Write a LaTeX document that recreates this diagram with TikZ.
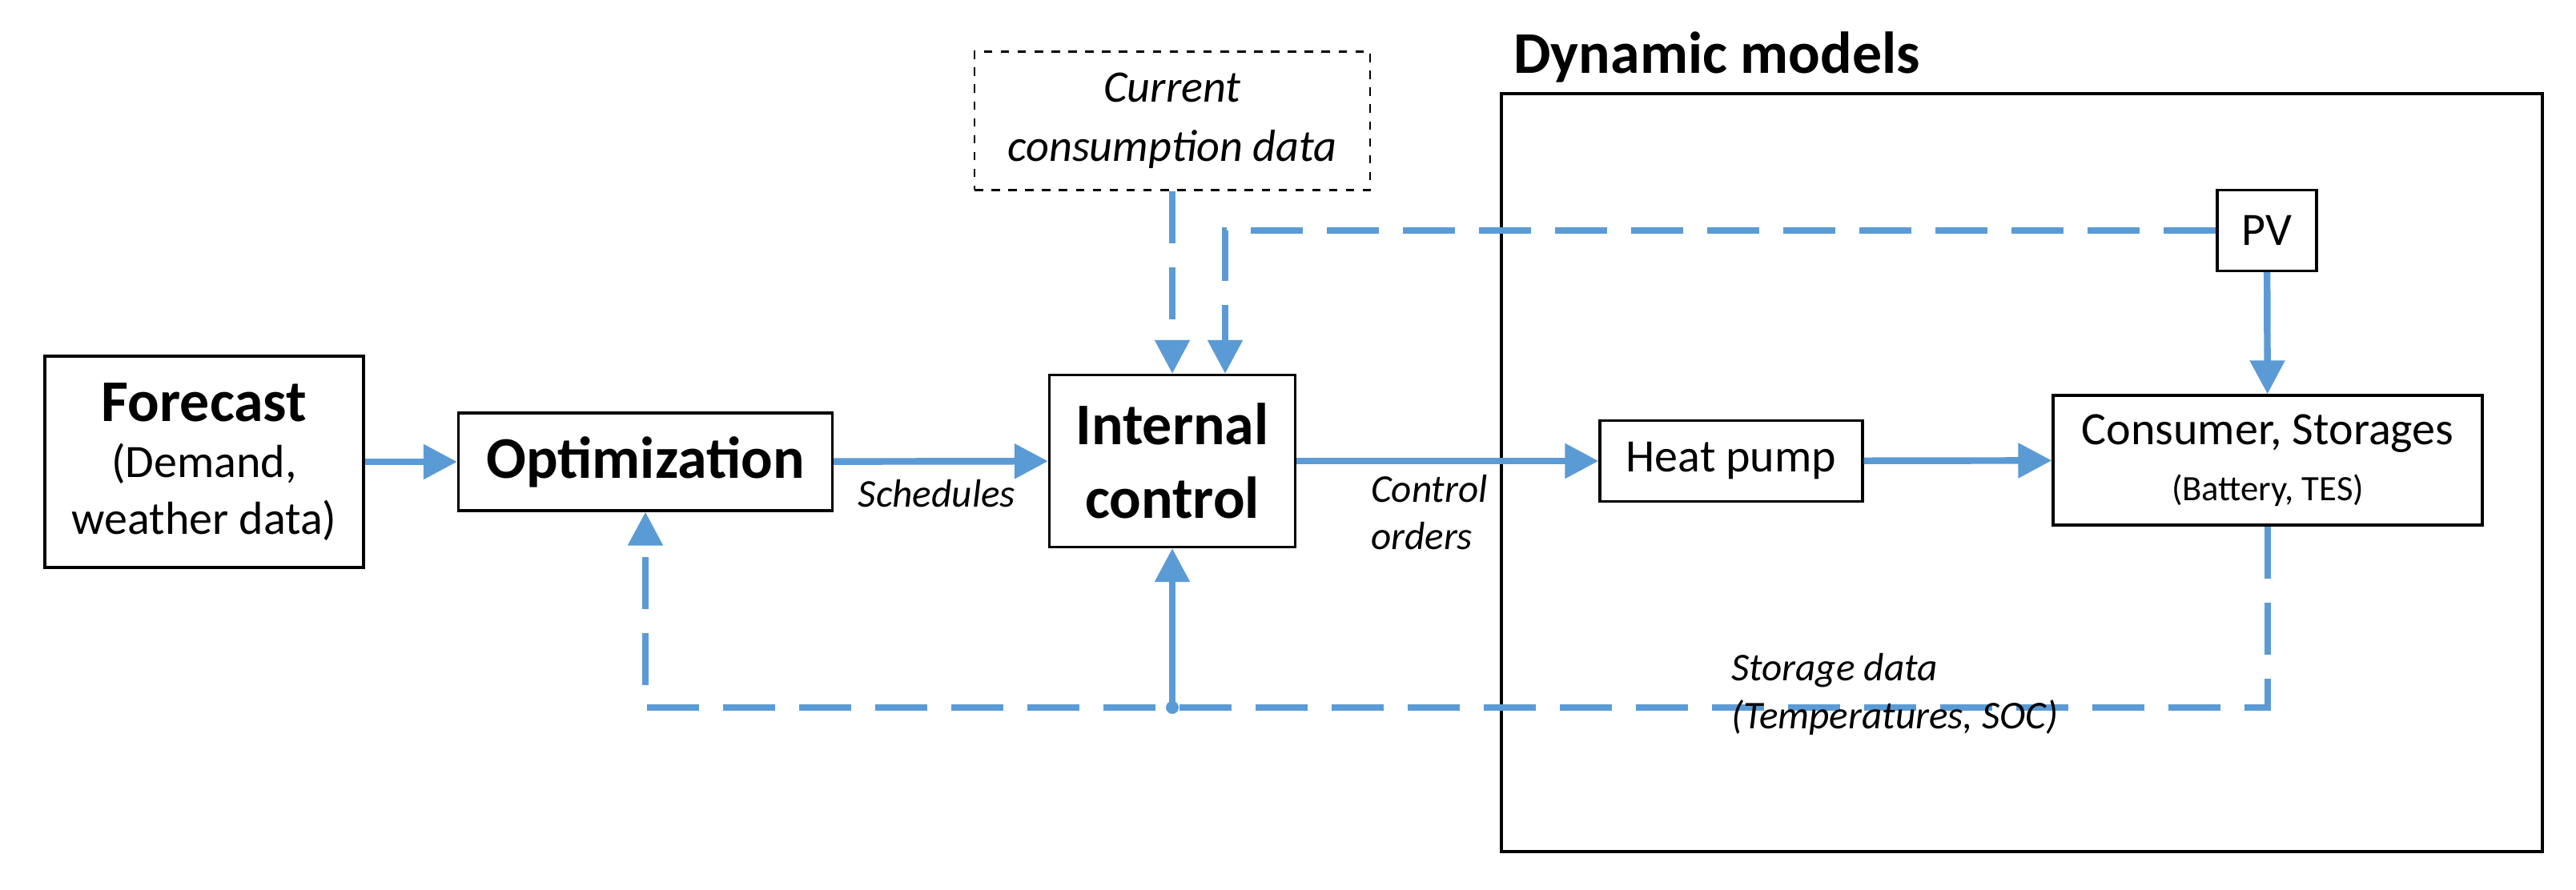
\documentclass[tikz,border=0pt]{standalone}
\usepackage{fontspec}
\setmainfont{Carlito}
\usetikzlibrary{arrows.meta}
\definecolor{flowblue}{RGB}{91,155,213}
\newcommand{\bigbf}{\fontsize{21}{25}\selectfont\bfseries}
\newcommand{\midrm}{\fontsize{16.5}{20}\selectfont\mdseries}
\newcommand{\smallrm}{\fontsize{12.7}{15}\selectfont\mdseries}

\begin{document}
\begin{tikzpicture}[
	box/.style={draw=black,line width=0.9pt,align=center,inner sep=2pt},
	flow/.style={flowblue,line width=2.4pt,-{Triangle[length=0.42cm,width=0.42cm]}},
	dflow/.style={flow,dash pattern=on 0.65cm off 0.3cm},
	lab/.style={font=\fontsize{14}{17}\selectfont\itshape,align=left}]
			\useasboundingbox (0,0) rectangle (32.17,11.12);
			\draw[black,line width=0.9pt] (18.75,0.48) rectangle (31.75,9.95);
			\node[anchor=west,font=\bigbf] (dyn) at (18.78,10.41) {Dynamic models};
			\node[box,minimum width=3.98cm,minimum height=2.64cm,font=\midrm] (fc) at (2.55,5.35)
				{\bigbf Forecast\\ \midrm (Demand,\\ \midrm weather data)};
			\node[box,minimum width=4.67cm,minimum height=1.22cm,font=\bigbf] (opt) at (8.06,5.35) {Optimization};
			\node[box,minimum width=3.07cm,minimum height=2.15cm,font=\fontsize{21}{26}\selectfont\bfseries] (ic) at (14.64,5.36) {Internal\\ control};
			\node[box,dashed,line width=0.6pt,minimum width=4.94cm,minimum height=1.73cm,font=\fontsize{16}{21}\selectfont\itshape] (cur) at (14.64,9.61) {Current\\ consumption data};
			\node[box,minimum width=1.24cm,minimum height=1.01cm,font=\midrm] (pv) at (28.31,8.24) {PV};
			\node[box,minimum width=3.28cm,minimum height=1.01cm,font=\midrm] (hp) at (21.62,5.36) {Heat pump};
			\node[box,minimum width=5.36cm,minimum height=1.62cm,font=\midrm] (cons) at (28.32,5.37)
				{Consumer, Storages\\ \smallrm (Battery, TES)};
			\coordinate (pvturn) at (15.30,8.24);
			\coordinate (stturn) at (28.32,2.28);
			\coordinate (opturn) at (8.06,2.28);
			\coordinate (dot) at (14.64,2.28);
			\draw[flow] (fc) -- (opt);
			\draw[flow] (opt) -- (ic);
			\draw[flow] (ic) -- (hp);
			\draw[flow] (hp) -- (cons);
			\draw[flow] (pv) -- (cons);
			\draw[dflow] (cur) -- (ic.north -| cur);
			\draw[dflow] (pv.west) -- (pvturn) -- (pvturn |- ic.north);
			\draw[dflow] (cons.south) -- (stturn) -- (opturn) -- (opt.south);
			\draw[flow] (dot) -- (ic.south);
			\fill[flowblue] (dot) circle (0.08);
			\node[lab] (sched) at (11.70,4.95) {Schedules};
			\node[lab] (ctrl) at (17.85,4.72) {Control\\ orders};
			\node[lab,anchor=north west] (stor) at (21.50,3.08) {Storage data\\ (Temperatures, SOC)};
		\end{tikzpicture}
\end{document}
